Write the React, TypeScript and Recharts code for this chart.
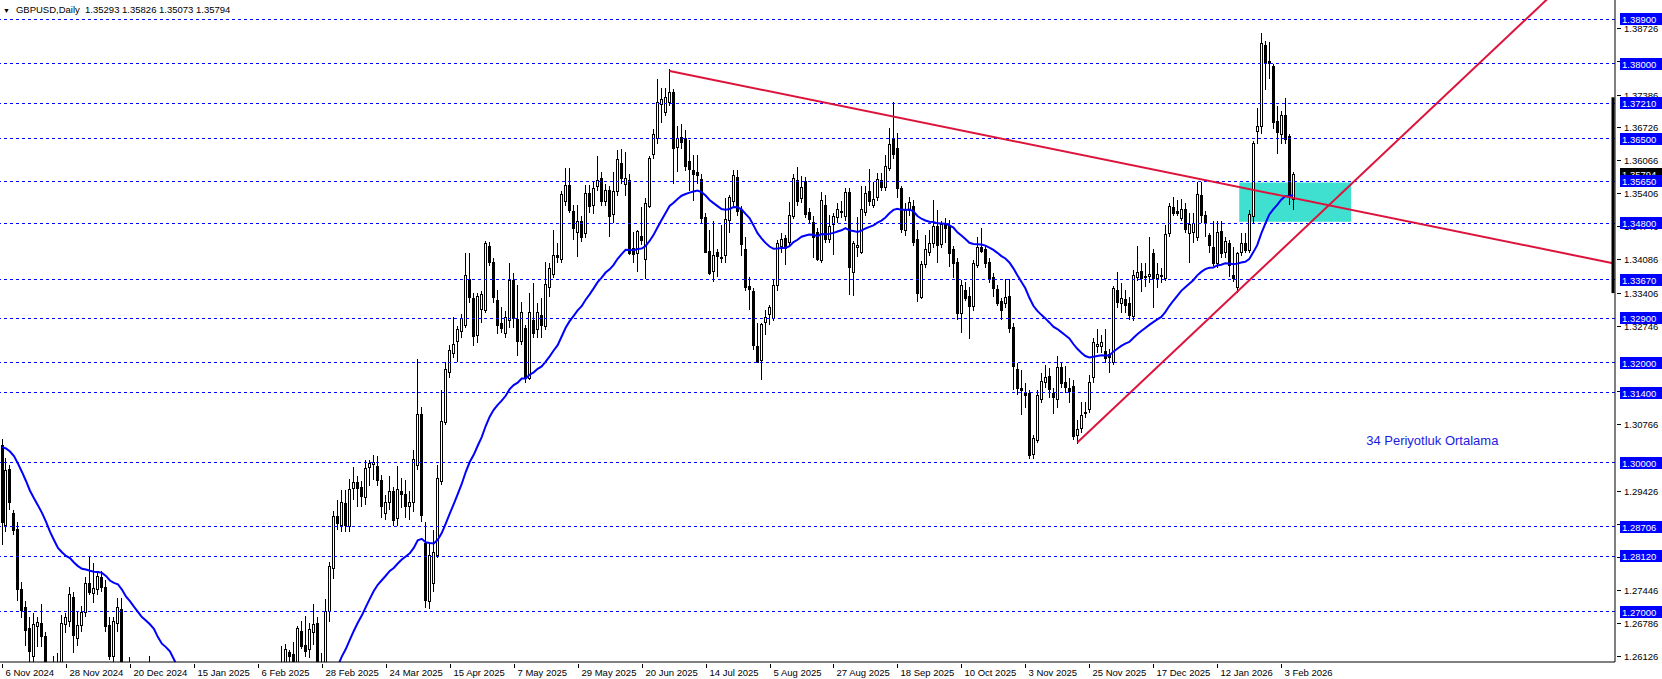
import React from "react";
import {
  ComposedChart,
  Bar,
  Line,
  XAxis,
  YAxis,
  ReferenceLine,
  ReferenceArea,
  ReferenceDot,
} from "recharts";

// one candle = [open, high, low, close]
type Candle = [number, number, number, number];

// daily candles, one block per date label (16 bars each)
const from6Nov2024: Candle[] = [
  [1.3035, 1.3048, 1.2835, 1.288], [1.2875, 1.3009, 1.286, 1.2985], [1.2987, 1.2995, 1.2905, 1.292], [1.2898, 1.2905, 1.2855, 1.2865],
  [1.2867, 1.288, 1.2721, 1.2746], [1.2746, 1.276, 1.2688, 1.2704], [1.271, 1.2721, 1.2631, 1.2664], [1.2668, 1.269, 1.2595, 1.2621],
  [1.2611, 1.2698, 1.26, 1.2676], [1.2671, 1.269, 1.263, 1.268], [1.2678, 1.2716, 1.263, 1.2651], [1.2651, 1.266, 1.2575, 1.259],
  [1.259, 1.26, 1.2487, 1.253], [1.254, 1.2611, 1.253, 1.257], [1.257, 1.2617, 1.252, 1.2565], [1.2565, 1.2694, 1.255, 1.2677],
];
const from28Nov2024: Candle[] = [
  [1.2676, 1.2698, 1.2657, 1.269], [1.2681, 1.2751, 1.267, 1.2736], [1.273, 1.274, 1.2617, 1.2653], [1.2648, 1.2701, 1.2631, 1.2674],
  [1.2674, 1.2711, 1.266, 1.2699], [1.27, 1.2771, 1.269, 1.2758], [1.2758, 1.2813, 1.2735, 1.2741], [1.2738, 1.2798, 1.2718, 1.2748],
  [1.2746, 1.2778, 1.2735, 1.2773], [1.277, 1.2783, 1.274, 1.275], [1.275, 1.2765, 1.266, 1.2671], [1.2674, 1.269, 1.2604, 1.2611],
  [1.2612, 1.269, 1.26, 1.2681], [1.2678, 1.2728, 1.266, 1.271], [1.2706, 1.2728, 1.256, 1.257], [1.257, 1.26, 1.2475, 1.25],
];
const from20Dec2024: Candle[] = [
  [1.25, 1.261, 1.2475, 1.2565], [1.2565, 1.2598, 1.251, 1.253], [1.253, 1.2565, 1.251, 1.2531], [1.253, 1.2545, 1.2495, 1.2515],
  [1.2515, 1.258, 1.2505, 1.257], [1.257, 1.2612, 1.253, 1.255], [1.255, 1.2575, 1.2505, 1.2515], [1.2515, 1.2535, 1.235, 1.2375],
  [1.2375, 1.245, 1.2355, 1.242], [1.242, 1.2575, 1.241, 1.2515], [1.2515, 1.2575, 1.246, 1.248], [1.248, 1.249, 1.2325, 1.2345],
  [1.2345, 1.235, 1.224, 1.2305], [1.2305, 1.232, 1.22, 1.2205], [1.2205, 1.2225, 1.21, 1.2195], [1.2195, 1.226, 1.216, 1.221],
];
const from15Jan2025: Candle[] = [
  [1.221, 1.229, 1.216, 1.224], [1.224, 1.229, 1.221, 1.2241], [1.224, 1.226, 1.216, 1.217], [1.217, 1.237, 1.216, 1.2355],
  [1.2355, 1.2375, 1.224, 1.235], [1.235, 1.2375, 1.229, 1.231], [1.231, 1.236, 1.229, 1.235], [1.235, 1.249, 1.234, 1.248],
  [1.248, 1.2525, 1.241, 1.246], [1.246, 1.249, 1.24, 1.244], [1.244, 1.248, 1.242, 1.245], [1.245, 1.248, 1.241, 1.242],
  [1.242, 1.245, 1.236, 1.2395], [1.233, 1.242, 1.225, 1.241], [1.241, 1.249, 1.24, 1.248], [1.248, 1.255, 1.246, 1.25],
];
const from6Feb2025: Candle[] = [
  [1.25, 1.252, 1.235, 1.244], [1.244, 1.247, 1.234, 1.24], [1.24, 1.242, 1.233, 1.237], [1.237, 1.246, 1.233, 1.245],
  [1.245, 1.249, 1.24, 1.2455], [1.2455, 1.257, 1.245, 1.256], [1.256, 1.2631, 1.255, 1.258], [1.258, 1.2636, 1.257, 1.2625],
  [1.262, 1.2624, 1.258, 1.2611], [1.2616, 1.264, 1.2575, 1.259], [1.259, 1.2672, 1.2585, 1.2668], [1.2661, 1.2681, 1.2626, 1.2631],
  [1.2634, 1.2692, 1.261, 1.2621], [1.2625, 1.2677, 1.2608, 1.2665], [1.2659, 1.2716, 1.2634, 1.2676], [1.2677, 1.269, 1.2575, 1.2585],
];
const from28Feb2025: Candle[] = [
  [1.2585, 1.2617, 1.256, 1.2575], [1.2575, 1.2726, 1.257, 1.2702], [1.2702, 1.2801, 1.268, 1.2793], [1.2788, 1.2902, 1.2766, 1.2893],
  [1.2893, 1.2925, 1.2865, 1.2878], [1.2875, 1.2945, 1.286, 1.292], [1.2918, 1.2945, 1.2861, 1.2875], [1.2873, 1.2966, 1.286, 1.2946],
  [1.2948, 1.299, 1.2925, 1.296], [1.296, 1.2973, 1.2911, 1.2948], [1.295, 1.2962, 1.291, 1.2933], [1.293, 1.3006, 1.2915, 1.2988],
  [1.299, 1.3006, 1.2952, 1.3], [1.2997, 1.3015, 1.2965, 1.3001], [1.2993, 1.3013, 1.2952, 1.2964], [1.2964, 1.2975, 1.2888, 1.2913],
];
const from24Mar2025: Candle[] = [
  [1.2899, 1.2935, 1.2885, 1.2921], [1.2921, 1.2972, 1.2905, 1.2942], [1.2942, 1.295, 1.2873, 1.2885], [1.2888, 1.2992, 1.2873, 1.2947],
  [1.2943, 1.2968, 1.2908, 1.2937], [1.2936, 1.2965, 1.2888, 1.2913], [1.2912, 1.2942, 1.2885, 1.2921], [1.2921, 1.3025, 1.2901, 1.3007],
  [1.2995, 1.3208, 1.2985, 1.3097], [1.3097, 1.3112, 1.288, 1.2895], [1.2838, 1.288, 1.2707, 1.2724], [1.2721, 1.2838, 1.2705, 1.2814],
  [1.2759, 1.2865, 1.2741, 1.2821], [1.2814, 1.2995, 1.2808, 1.2968], [1.2963, 1.3146, 1.2955, 1.3084], [1.3082, 1.3202, 1.3075, 1.3187],
];
const from15Apr2025: Candle[] = [
  [1.3182, 1.3235, 1.317, 1.3226], [1.322, 1.3292, 1.321, 1.3238], [1.3243, 1.3273, 1.3201, 1.3268], [1.3263, 1.3299, 1.325, 1.329],
  [1.3276, 1.342, 1.327, 1.3376], [1.3368, 1.3421, 1.332, 1.3333], [1.333, 1.334, 1.3233, 1.3253], [1.3256, 1.334, 1.324, 1.3334],
  [1.3308, 1.3345, 1.328, 1.3338], [1.3306, 1.3444, 1.33, 1.344], [1.3435, 1.3442, 1.3395, 1.3403], [1.3402, 1.341, 1.332, 1.3333],
  [1.3326, 1.3347, 1.3258, 1.3276], [1.3281, 1.3313, 1.3259, 1.3269], [1.3259, 1.3305, 1.325, 1.3293], [1.3286, 1.34, 1.327, 1.3366],
];
const from7May2025: Candle[] = [
  [1.3366, 1.338, 1.327, 1.329], [1.3289, 1.3356, 1.3213, 1.3243], [1.3243, 1.3323, 1.3235, 1.3303], [1.3269, 1.3275, 1.316, 1.3169],
  [1.3169, 1.334, 1.3165, 1.3303], [1.3287, 1.336, 1.3249, 1.3259], [1.3267, 1.332, 1.3249, 1.3303], [1.3296, 1.333, 1.3249, 1.3276],
  [1.3273, 1.3402, 1.3265, 1.3358], [1.3353, 1.34, 1.3333, 1.339], [1.3378, 1.3467, 1.337, 1.3417], [1.3417, 1.344, 1.34, 1.3413],
  [1.3408, 1.3544, 1.34, 1.3539], [1.3524, 1.3591, 1.3515, 1.3558], [1.3558, 1.3591, 1.35, 1.3506], [1.3505, 1.3517, 1.3447, 1.347],
];
const from29May2025: Candle[] = [
  [1.3463, 1.3517, 1.3413, 1.3485], [1.3485, 1.3495, 1.3443, 1.3453], [1.3461, 1.3558, 1.345, 1.354], [1.354, 1.3557, 1.35, 1.3514],
  [1.3516, 1.3564, 1.3499, 1.355], [1.3554, 1.3615, 1.3545, 1.3567], [1.3572, 1.3583, 1.3515, 1.3524], [1.3524, 1.356, 1.3515, 1.3547],
  [1.3547, 1.3555, 1.3453, 1.3495], [1.3498, 1.3584, 1.348, 1.3545], [1.3544, 1.3627, 1.3535, 1.3609], [1.3601, 1.363, 1.356, 1.3572],
  [1.3559, 1.3624, 1.3534, 1.3572], [1.3567, 1.358, 1.3417, 1.342], [1.343, 1.3463, 1.34, 1.3419], [1.3421, 1.3467, 1.3383, 1.3465],
];
const from20Jun2025: Candle[] = [
  [1.3455, 1.3513, 1.3437, 1.3447], [1.3408, 1.353, 1.3368, 1.352], [1.3514, 1.3615, 1.351, 1.3611], [1.3619, 1.367, 1.361, 1.3659],
  [1.3651, 1.377, 1.364, 1.3723], [1.3719, 1.3751, 1.3681, 1.3729], [1.3703, 1.3751, 1.3695, 1.3734], [1.3724, 1.3789, 1.3715, 1.3744],
  [1.3743, 1.375, 1.356, 1.3631], [1.3633, 1.3675, 1.3584, 1.3651], [1.3653, 1.368, 1.363, 1.3644], [1.3651, 1.3667, 1.3585, 1.3595],
  [1.3605, 1.3647, 1.3544, 1.359], [1.3587, 1.3617, 1.3524, 1.358], [1.3583, 1.3617, 1.356, 1.3577], [1.357, 1.358, 1.348, 1.349],
];
const from14Jul2025: Candle[] = [
  [1.3493, 1.35, 1.342, 1.3423], [1.3425, 1.3467, 1.3377, 1.338], [1.3385, 1.3484, 1.3363, 1.3417], [1.3422, 1.3428, 1.3373, 1.3415],
  [1.3412, 1.3477, 1.3401, 1.341], [1.3417, 1.353, 1.3401, 1.3488], [1.3487, 1.3537, 1.346, 1.3532], [1.3524, 1.3588, 1.3515, 1.3577],
  [1.3573, 1.3588, 1.3495, 1.3504], [1.3507, 1.3515, 1.3415, 1.3439], [1.3429, 1.3452, 1.3345, 1.3352], [1.3354, 1.3373, 1.3306, 1.3348],
  [1.3344, 1.335, 1.3226, 1.3235], [1.3233, 1.328, 1.32, 1.3201], [1.3206, 1.328, 1.3166, 1.3278], [1.3283, 1.3306, 1.3256, 1.3293],
];
const from5Aug2025: Candle[] = [
  [1.3298, 1.3316, 1.3275, 1.3312], [1.3291, 1.3367, 1.3285, 1.3356], [1.3356, 1.3447, 1.3345, 1.344], [1.3435, 1.346, 1.342, 1.3448],
  [1.345, 1.3457, 1.3397, 1.343], [1.3443, 1.3523, 1.3435, 1.3497], [1.3494, 1.358, 1.3488, 1.3572], [1.3568, 1.3593, 1.3515, 1.3525],
  [1.3531, 1.3575, 1.352, 1.3553], [1.3566, 1.3573, 1.349, 1.3499], [1.3502, 1.351, 1.348, 1.3488], [1.3483, 1.3495, 1.341, 1.3452],
  [1.3463, 1.347, 1.3405, 1.3408], [1.3406, 1.3543, 1.34, 1.3526], [1.3517, 1.3537, 1.344, 1.3448], [1.3448, 1.3497, 1.344, 1.3475],
];
const from27Aug2025: Candle[] = [
  [1.3479, 1.35, 1.3417, 1.3495], [1.3493, 1.352, 1.348, 1.3508], [1.3502, 1.3525, 1.349, 1.3505], [1.3494, 1.355, 1.3485, 1.3542],
  [1.3542, 1.355, 1.3336, 1.3393], [1.3383, 1.3445, 1.3335, 1.3441], [1.3432, 1.3493, 1.3413, 1.3437], [1.3423, 1.3554, 1.3418, 1.3508],
  [1.3502, 1.3554, 1.3495, 1.354], [1.3544, 1.3589, 1.3515, 1.3524], [1.3517, 1.3564, 1.351, 1.3528], [1.3532, 1.3581, 1.3525, 1.357],
  [1.3568, 1.3581, 1.3545, 1.3553], [1.3553, 1.3617, 1.3545, 1.3595], [1.3592, 1.3671, 1.3585, 1.364], [1.3651, 1.3724, 1.361, 1.3619],
];
const from18Sep2025: Candle[] = [
  [1.3631, 1.3661, 1.353, 1.355], [1.355, 1.3555, 1.3461, 1.3468], [1.3467, 1.352, 1.3455, 1.3507], [1.3507, 1.3533, 1.3495, 1.3522],
  [1.3514, 1.3527, 1.3435, 1.3443], [1.3448, 1.3466, 1.3323, 1.334], [1.3333, 1.3405, 1.3329, 1.3398], [1.3398, 1.3456, 1.339, 1.3428],
  [1.3423, 1.3467, 1.3415, 1.344], [1.344, 1.3527, 1.343, 1.3474], [1.3474, 1.3507, 1.34, 1.3437], [1.3438, 1.3484, 1.343, 1.3478],
  [1.3478, 1.349, 1.344, 1.347], [1.3477, 1.3486, 1.3393, 1.342], [1.3428, 1.3435, 1.337, 1.34], [1.3403, 1.341, 1.3286, 1.3301],
];
const from10Oct2025: Candle[] = [
  [1.3301, 1.3367, 1.3259, 1.3356], [1.3346, 1.3363, 1.3325, 1.3331], [1.3334, 1.3352, 1.3247, 1.3314], [1.3314, 1.3407, 1.3305, 1.34],
  [1.3396, 1.3453, 1.339, 1.3432], [1.3432, 1.347, 1.342, 1.3425], [1.3428, 1.3435, 1.339, 1.34], [1.3403, 1.341, 1.336, 1.3368],
  [1.3373, 1.338, 1.3333, 1.335], [1.3348, 1.3356, 1.3315, 1.3321], [1.3325, 1.333, 1.3286, 1.3306], [1.332, 1.3368, 1.331, 1.3332],
  [1.3334, 1.3368, 1.326, 1.3269], [1.3271, 1.328, 1.3145, 1.3194], [1.3187, 1.32, 1.3135, 1.3149], [1.3149, 1.3186, 1.3095, 1.3146],
];
const from3Nov2025: Candle[] = [
  [1.314, 1.316, 1.311, 1.3135], [1.314, 1.3145, 1.3008, 1.3015], [1.3018, 1.3055, 1.3008, 1.305], [1.3046, 1.3145, 1.304, 1.3136],
  [1.3127, 1.318, 1.312, 1.3164], [1.3161, 1.3196, 1.315, 1.3172], [1.3174, 1.319, 1.313, 1.3147], [1.314, 1.315, 1.3098, 1.3131],
  [1.3127, 1.3214, 1.311, 1.3191], [1.3191, 1.32, 1.315, 1.316], [1.3162, 1.3194, 1.314, 1.3152], [1.315, 1.317, 1.312, 1.3143],
  [1.3153, 1.3165, 1.3045, 1.3053], [1.3055, 1.3085, 1.3037, 1.3068], [1.307, 1.3122, 1.306, 1.3095], [1.31, 1.3122, 1.309, 1.3101],
];
const from25Nov2025: Candle[] = [
  [1.3107, 1.3175, 1.31, 1.3161], [1.3172, 1.3249, 1.316, 1.3241], [1.3233, 1.3268, 1.322, 1.3237], [1.3233, 1.3255, 1.322, 1.3241],
  [1.3223, 1.3268, 1.32, 1.3209], [1.3218, 1.3228, 1.318, 1.3211], [1.3201, 1.3354, 1.3195, 1.335], [1.3347, 1.3383, 1.331, 1.3323],
  [1.3321, 1.3361, 1.33, 1.3331], [1.3329, 1.3346, 1.33, 1.3316], [1.3321, 1.3333, 1.3286, 1.3296], [1.3294, 1.3386, 1.3285, 1.3376],
  [1.3373, 1.3435, 1.3365, 1.3383], [1.3385, 1.34, 1.3343, 1.337], [1.3373, 1.34, 1.3353, 1.3375], [1.3375, 1.3453, 1.336, 1.3378],
];
const from17Dec2025: Candle[] = [
  [1.342, 1.3428, 1.331, 1.337], [1.3371, 1.34, 1.335, 1.3378], [1.3375, 1.339, 1.336, 1.3377], [1.3371, 1.3477, 1.3365, 1.3459],
  [1.346, 1.352, 1.3453, 1.3515], [1.3512, 1.3533, 1.3495, 1.35], [1.3504, 1.3527, 1.3495, 1.35], [1.349, 1.3528, 1.3485, 1.3508],
  [1.3508, 1.352, 1.346, 1.3468], [1.346, 1.35, 1.34, 1.3479], [1.3462, 1.35, 1.344, 1.348], [1.3452, 1.3564, 1.3445, 1.3538],
  [1.3537, 1.3564, 1.348, 1.3497], [1.3497, 1.3505, 1.3453, 1.348], [1.3457, 1.346, 1.342, 1.3437], [1.3432, 1.3484, 1.3395, 1.3401],
];
const from12Jan2026: Candle[] = [
  [1.34, 1.3484, 1.339, 1.3462], [1.3465, 1.3484, 1.341, 1.342], [1.3423, 1.3453, 1.341, 1.3445], [1.3441, 1.3446, 1.3373, 1.3396],
  [1.3376, 1.3433, 1.3363, 1.3371], [1.3353, 1.3423, 1.334, 1.3421], [1.3423, 1.346, 1.3415, 1.3441], [1.3441, 1.346, 1.342, 1.3427],
  [1.3427, 1.3507, 1.342, 1.3498], [1.3494, 1.3645, 1.348, 1.3642], [1.3666, 1.3711, 1.364, 1.3675], [1.3675, 1.3863, 1.366, 1.3843],
  [1.3838, 1.3847, 1.3748, 1.3803], [1.3806, 1.3845, 1.377, 1.3801], [1.3796, 1.38, 1.367, 1.3684], [1.3685, 1.3716, 1.362, 1.3664],
];
const from3Feb2026: Candle[] = [
  [1.3659, 1.3705, 1.364, 1.3698], [1.3698, 1.3731, 1.364, 1.3649], [1.3655, 1.366, 1.3517, 1.3535], [1.35293, 1.35826, 1.35073, 1.35794],
];

const dateLabels = [
  "6 Nov 2024", "28 Nov 2024", "20 Dec 2024", "15 Jan 2025", "6 Feb 2025", "28 Feb 2025", "24 Mar 2025",
  "15 Apr 2025", "7 May 2025", "29 May 2025", "20 Jun 2025", "14 Jul 2025", "5 Aug 2025", "27 Aug 2025",
  "18 Sep 2025", "10 Oct 2025", "3 Nov 2025", "25 Nov 2025", "17 Dec 2025", "12 Jan 2026", "3 Feb 2026",
];

// horizontal levels drawn on the chart (blue boxes on the price scale)
const levels = [
  1.389, 1.38, 1.3721, 1.365, 1.3565, 1.348, 1.3367, 1.329, 1.32, 1.314, 1.3, 1.28706, 1.2812, 1.27,
];
const priceTicks = [
  1.38726, 1.38066, 1.37386, 1.36726, 1.36066, 1.35406, 1.34746, 1.34086, 1.33406, 1.32746,
  1.31426, 1.30766, 1.29426, 1.28766, 1.28106, 1.27446, 1.26786, 1.26126,
];
const lastClose = 1.35794;
const symbolTitle = "GBPUSD,Daily";

const maPeriod = 34;
const maStart = 1.304; // average value just before the first bar
const maLabel = "34 Periyotluk Ortalama";

const resistanceLine = [
  { bar: 167, price: 1.3786 },
  { bar: 403, price: 1.34 },
];
const supportLine = [
  { bar: 269, price: 1.304 },
  { bar: 395, price: 1.3994 },
];
const zoneBars = [310, 337];
const zonePrices = [1.3483, 1.3562];
const scaleMarker = [1.3733, 1.334];

const totalSlots = 404; // bars plus empty space on the right
const yMin = 1.259956;
const yMax = 1.392834;

const candles: Candle[] = [
  ...from6Nov2024, ...from28Nov2024, ...from20Dec2024, ...from15Jan2025, ...from6Feb2025,
  ...from28Feb2025, ...from24Mar2025, ...from15Apr2025, ...from7May2025, ...from29May2025,
  ...from20Jun2025, ...from14Jul2025, ...from5Aug2025, ...from27Aug2025, ...from18Sep2025,
  ...from10Oct2025, ...from3Nov2025, ...from25Nov2025, ...from17Dec2025, ...from12Jan2026,
  ...from3Feb2026,
];

const alpha = 2 / (maPeriod + 1);
let ema = maStart;
const data = Array.from({ length: totalSlots }, (_, i) => {
  const k = candles[i];
  if (!k) return { i };
  ema = ema + alpha * (k[3] - ema);
  return { i, o: k[0], h: k[1], l: k[2], c: k[3], ma: ema };
});

const FONT = "'Liberation Sans', Arial, sans-serif";
const FS = 9.5;

function CandleShape(props: any) {
  const { x, y, width, height, payload } = props;
  if (!payload || payload.o == null) return null;
  const { o, h, l, c } = payload;
  const top = Math.min(y, y + height);
  const span = Math.abs(height);
  const cx = Math.round(x + width / 2);
  const py = (v: number) => top + ((h - v) / (h - l)) * span;
  const bodyTop = Math.round(py(Math.max(o, c)));
  const bodyBot = Math.round(py(Math.min(o, c)));
  const up = c >= o;
  return (
    <g shapeRendering="crispEdges">
      <line x1={cx + 0.5} x2={cx + 0.5} y1={top} y2={top + span} stroke="#000" />
      <rect
        x={cx - 0.5}
        y={bodyTop + 0.5}
        width={2}
        height={Math.max(bodyBot - bodyTop, 0)}
        fill={up ? "#fff" : "#000"}
        stroke="#000"
      />
    </g>
  );
}

function DateTick(props: any) {
  const { x, y, payload } = props;
  const label = dateLabels[payload.value / 16];
  if (!label) return null;
  const px = Math.round(x) + 0.5;
  return (
    <g>
      <line x1={px} x2={px} y1={y} y2={y + 4} stroke="#000" shapeRendering="crispEdges" />
      <text x={px + 3} y={y + 12} fontSize={FS} fontFamily={FONT} fill="#000">
        {label}
      </text>
    </g>
  );
}

function PriceTick(props: any) {
  const { x, y, payload } = props;
  const v = payload.value as number;
  const isLevel = levels.includes(v);
  const isLast = v === lastClose;
  const yy = Math.round(y);
  if (isLevel || isLast) {
    return (
      <g>
        <rect x={x + 3} y={yy - 6} width={44} height={12} fill={isLast ? "#000" : "#0000ff"} />
        <text x={x + 5} y={yy + 3.5} fontSize={FS} fontFamily={FONT} fill="#fff">
          {v.toFixed(5)}
        </text>
      </g>
    );
  }
  return (
    <g>
      <line x1={x} x2={x + 4} y1={yy + 0.5} y2={yy + 0.5} stroke="#000" shapeRendering="crispEdges" />
      <text x={x + 7} y={yy + 3.5} fontSize={FS} fontFamily={FONT} fill="#000">
        {v.toFixed(5)}
      </text>
    </g>
  );
}

export default function App() {
  const dateTicks = dateLabels.map((_, k) => k * 16);
  const axisTicks = [...priceTicks, lastClose, ...levels];
  const last = candles[candles.length - 1];
  return (
    <div style={{ position: "relative", width: 1662, height: 679, background: "#fff" }}>
      <style>{"body{margin:0}"}</style>
      <ComposedChart
        width={1662}
        height={679}
        data={data}
        margin={{ top: 0, right: 0, bottom: 0, left: 0 }}
      >
        <XAxis
          dataKey="i"
          type="category"
          ticks={dateTicks}
          interval={0}
          tick={<DateTick />}
          tickLine={false}
          tickSize={0}
          height={17}
          axisLine={{ stroke: "#000" }}
        />
        <YAxis
          orientation="right"
          type="number"
          domain={[yMin, yMax]}
          allowDataOverflow
          ticks={axisTicks}
          interval={0}
          tick={<PriceTick />}
          tickLine={false}
          tickSize={0}
          width={47}
          axisLine={{ stroke: "#000" }}
        />
        <ReferenceArea
          x1={zoneBars[0]}
          x2={zoneBars[1]}
          y1={zonePrices[0]}
          y2={zonePrices[1]}
          fill="#40e0d0"
          fillOpacity={1}
          stroke="none"
        />
        {levels.map((lv) => (
          <ReferenceLine
            key={lv}
            y={lv}
            stroke="#0000ff"
            strokeDasharray="3 3"
            strokeWidth={1}
            shapeRendering="crispEdges"
          />
        ))}
        <Bar
          dataKey={(d: any) => (d.o == null ? null : [d.l, d.h])}
          barSize={3}
          shape={<CandleShape />}
          isAnimationActive={false}
        />
        <Line
          dataKey="ma"
          type="linear"
          stroke="#0000ff"
          strokeWidth={2}
          dot={false}
          activeDot={false}
          isAnimationActive={false}
        />
        <ReferenceLine
          segment={resistanceLine.map((p) => ({ x: p.bar, y: p.price }))}
          stroke="#dc143c"
          strokeWidth={2}
          ifOverflow="hidden"
        />
        <ReferenceLine
          segment={supportLine.map((p) => ({ x: p.bar, y: p.price }))}
          stroke="#dc143c"
          strokeWidth={2}
          ifOverflow="hidden"
        />
        <ReferenceLine
          segment={[
            { x: totalSlots - 1, y: scaleMarker[0] },
            { x: totalSlots - 1, y: scaleMarker[1] },
          ]}
          stroke="#000"
          strokeWidth={3}
          ifOverflow="visible"
        />
        <ReferenceDot
          x={340}
          y={1.3045}
          r={0}
          fill="none"
          stroke="none"
          label={{ value: maLabel, position: "right", fill: "#1c1ce0", fontSize: 13, fontFamily: FONT }}
        />
      </ComposedChart>
      <div
        style={{
          position: "absolute",
          left: 3,
          top: 4,
          fontSize: FS,
          lineHeight: "12px",
          fontFamily: FONT,
          color: "#000",
          whiteSpace: "pre",
        }}
      >
        <span style={{ fontSize: 7, marginRight: 6 }}>▼</span>
        {`${symbolTitle}  ${last.map((v) => v.toFixed(5)).join(" ")}`}
      </div>
    </div>
  );
}
